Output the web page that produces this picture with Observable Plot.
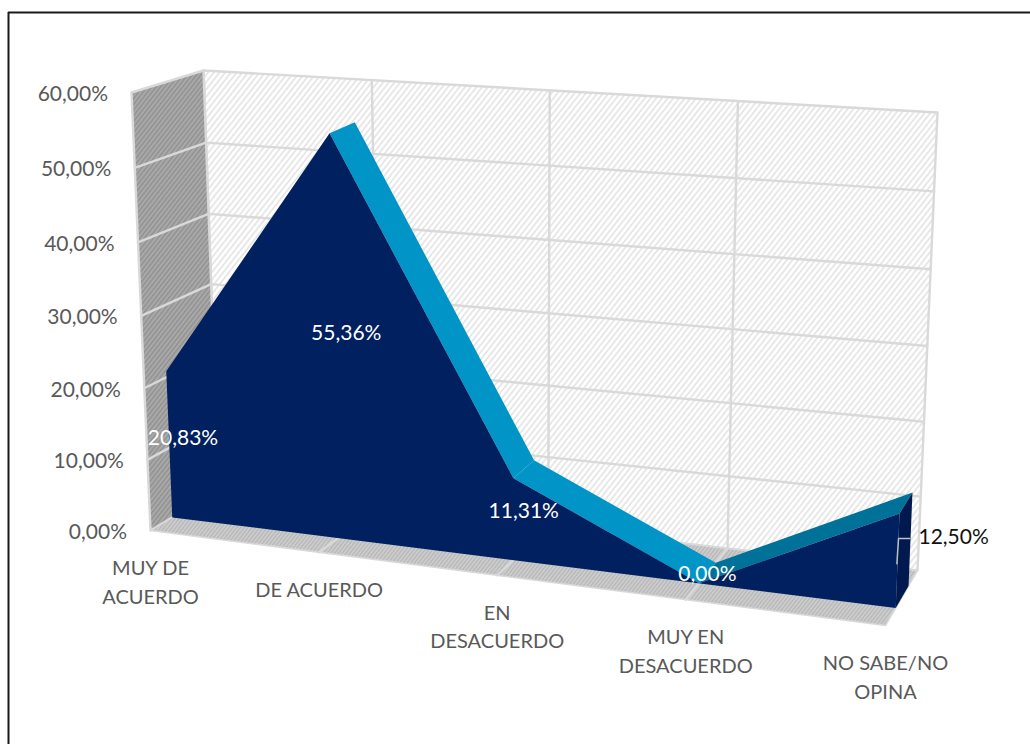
<!DOCTYPE html>
<html><head><meta charset="utf-8">
<script src="https://cdn.jsdelivr.net/npm/d3@7"></script>
<script src="https://cdn.jsdelivr.net/npm/@observablehq/plot@0.6"></script>
<style>html,body{margin:0;padding:0;background:#fff}svg{display:block}</style>
</head><body><div id="chart"></div>
<script>
const categories = ["MUY DE\nACUERDO", "DE ACUERDO", "EN\nDESACUERDO", "MUY EN\nDESACUERDO", "NO SABE/NO\nOPINA"];
const values = [20.83, 55.36, 11.31, 0, 12.5];
const valueLabels = ["20,83%", "55,36%", "11,31%", "0,00%", "12,50%"];
const yTicks = [0, 10, 20, 30, 40, 50, 60];
const yTickLabels = ["0,00%", "10,00%", "20,00%", "30,00%", "40,00%", "50,00%", "60,00%"];

// Calibration of the 3D box: where its eight corners fall on the page
const box = {
  fbl: [150, 530], ftl: [131, 92], fbr: [885, 625], ftr: [903, 153],
  bbl: [218, 489], btl: [203, 70], bbr: [917, 570], btr: [937, 112]
};
const frontDepth = 0.32, backDepth = 0.72;
const n = categories.length;
const warp = (u, k) => u / (u + k * (1 - u));
const lerp = (a, b, f) => [a[0] + (b[0] - a[0]) * f, a[1] + (b[1] - a[1]) * f];
// position on the page of (category index, value, depth)
function project(i, v, d) {
  const t = warp(i / (n - 1), 1.12), u = warp(v / 60, 1.04);
  const fb = lerp(box.fbl, box.fbr, t), ft = lerp(box.ftl, box.ftr, t);
  const bb = lerp(box.bbl, box.bbr, t), bt = lerp(box.btl, box.btr, t);
  const p = lerp(lerp(fb, ft, u), lerp(bb, bt, u), d);
  return {x: p[0], y: p[1]};
}
const lastCat = n - 1, maxV = 60;
const poly = (pts) => pts.map(([i, v, d]) => project(i, v, d));
const face = (pts, o) => Plot.line(poly(pts), {x: "x", y: "y", ...o});
const seg = (pts, o) => Plot.line(poly(pts), {x: "x", y: "y", stroke: "#d9d9d9", strokeWidth: 2.4, ...o});

const strip = (i) => [[i, values[i], frontDepth], [i + 1, values[i + 1], frontDepth], [i + 1, values[i + 1], backDepth], [i, values[i], backDepth]];
const stripColors = [null, "#0095c6", "#0095c6", "#00729a"];
const frontFace = [...values.map((v, i) => [i, v, frontDepth]), [lastCat, 0, frontDepth], [0, 0, frontDepth]];

const marks = [
  // chart frame
  Plot.ruleY([12], {stroke: "#1a1a1a", strokeWidth: 2, x1: 8, x2: 1030}),
  Plot.ruleX([8], {stroke: "#1a1a1a", strokeWidth: 2, y1: 12, y2: 744}),
  // walls and floor
  face([[0, 0, 1], [lastCat, 0, 1], [lastCat, maxV, 1], [0, maxV, 1], [0, 0, 1]], {fill: "url(#wall)", stroke: "#d9d9d9", strokeWidth: 2.4}),
  face([[0, 0, 0], [0, 0, 1], [0, maxV, 1], [0, maxV, 0], [0, 0, 0]], {fill: "url(#side)", stroke: "#d9d9d9", strokeWidth: 2.4}),
  face([[0, 0, 0], [lastCat, 0, 0], [lastCat, 0, 1], [0, 0, 1], [0, 0, 0]], {fill: "url(#floor)", stroke: "#d9d9d9", strokeWidth: 1.5}),
  // grid
  ...yTicks.slice(1, -1).flatMap((v) => [
    seg([[0, v, 1], [lastCat, v, 1]]),
    seg([[0, v, 0], [0, v, 1]])
  ]),
  ...d3.range(1, lastCat).flatMap((i) => [
    seg([[i, 0, 1], [i, maxV, 1]]),
    seg([[i, 0, 0], [i, 0, 1]])
  ]),
  // area
  ...d3.range(1, lastCat + 0).map((i) => face(strip(i), {fill: stripColors[i]})),
  face([[lastCat, 0, frontDepth], [lastCat, values[lastCat], frontDepth], [lastCat, values[lastCat], backDepth], [lastCat, 0, backDepth]], {fill: "#001a4f"}),
  face(frontFace, {fill: "#002060"}),
  // leader of the outside label
  seg([[lastCat, 6, 0.3], [lastCat, 9.2, 0.32], [lastCat, 6.6, 0.69]], {stroke: "#bfbfbf", strokeWidth: 1.5}),
  // value axis labels
  Plot.text(yTicks.map((v, k) => ({...project(0, v, 0), label: yTickLabels[k]})), {
    x: "x", y: "y", text: "label", textAnchor: "end", dx: -23.5, dy: 1.5, fontSize: 21, fontFamily: "Lato", fill: "#595959"
  }),
  // category labels
  Plot.text(categories.map((c, i) => ({...project(i, 0, 0), label: c})), {
    x: "x", y: "y", text: "label", lineAnchor: "top", dy: 24.5, lineHeight: 1.42, fontSize: 20, fontFamily: "Lato", fill: "#595959"
  }),
  // value labels
  Plot.text(values.slice(0, -1).map((v, i) => ({...project(i, v / 2, (frontDepth + backDepth) / 2), label: valueLabels[i]})), {
    x: "x", y: "y", text: "label", dy: 1.5, fontSize: 21, fontFamily: "Lato", fill: "#fff"
  }),
  Plot.text([{...project(lastCat, values[lastCat] / 2, backDepth), label: valueLabels[lastCat]}], {
    x: "x", y: "y", text: "label", textAnchor: "start", dx: 8, dy: -2, fontSize: 21, fontFamily: "Lato", fill: "#111"
  })
];

const svg = Plot.plot({
  width: 1030, height: 744, margin: 0,
  x: {domain: [0, 1030], range: [0, 1030], axis: null},
  y: {domain: [0, 744], range: [0, 744], axis: null},
  style: {background: "#fff"},
  marks
});
const defs = d3.select(svg).insert("defs", ":first-child");
const hatch = (id, base, line, w, lw) => {
  const p = defs.append("pattern").attr("id", id).attr("patternUnits", "userSpaceOnUse")
    .attr("width", w).attr("height", w).attr("patternTransform", "rotate(38)");
  p.append("rect").attr("width", w).attr("height", w).attr("fill", base);
  p.append("rect").attr("width", lw).attr("height", w).attr("fill", line);
};
hatch("wall", "#ffffff", "#e6e6e6", 4.5, 1.8);
hatch("side", "#a9a9a9", "#929292", 3.5, 1.5);
hatch("floor", "#cfcfcf", "#b5b5b5", 3, 1.3);
document.getElementById("chart").append(svg);
</script></body></html>
